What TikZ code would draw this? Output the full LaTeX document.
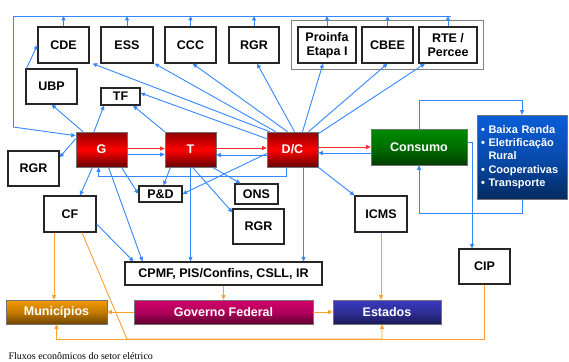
\documentclass[tikz,border=0pt]{standalone}
\usepackage{fontspec}
\setmainfont{Liberation Sans}
\newfontfamily\capfont{Liberation Serif}
\usepackage{xcolor}
\definecolor{sefblue}{HTML}{3388FF}
\definecolor{sefora}{HTML}{FFA033}
\definecolor{sefred}{HTML}{FF2E2E}
\definecolor{sefgreen}{HTML}{008A00}
\definecolor{sefnavy}{HTML}{3A3ABF}
\definecolor{sefmag}{HTML}{D0006A}
\definecolor{sefbrown}{HTML}{F59A00}
\definecolor{sefsky}{HTML}{0A5ED8}
\usepackage{tikz}
\usetikzlibrary{arrows.meta,positioning,fit,calc}
\tikzset{
  sefbox/.style={draw=black!85,line width=1.1pt,fill=white,inner sep=0pt,align=center,font=\bfseries\fontsize{12.5}{14}\selectfont},
  sefdark/.style={draw=black!55,line width=0.6pt,inner sep=0pt,align=center,text=white,font=\bfseries\fontsize{12.5}{14}\selectfont},
  sefredbox/.style={sefdark,minimum width=51pt,minimum height=35pt,top color=red!55!black,bottom color=red!40!black,middle color=red},
  sefflow/.style={-{Triangle[length=4.5pt,width=4pt]},line width=0.9pt,draw=sefblue},
  sefmoney/.style={sefflow,draw=sefora},
  sefpower/.style={sefflow,draw=sefred},
}

\begin{document}
\begin{tikzpicture}[x=1pt,y=-1pt]
\useasboundingbox (0,0) rectangle (569,361);
 % encargos setoriais
\node[sefbox,minimum width=51pt,minimum height=36pt] (cde) at (63.5,45) {CDE};
\node[sefbox,minimum width=52pt,minimum height=36pt] (ess) at (127,45) {ESS};
\node[sefbox,minimum width=51pt,minimum height=36pt] (ccc) at (190.5,45) {CCC};
\node[sefbox,minimum width=50pt,minimum height=36pt] (rgrA) at (254,45) {RGR};
\node[sefbox,minimum width=58pt,minimum height=36pt] (proinfa) at (327,45) {Proinfa\\Etapa I};
\node[sefbox,minimum width=51pt,minimum height=36pt] (cbee) at (387.5,45) {CBEE};
\node[sefbox,minimum width=58pt,minimum height=36pt] (rte) at (448,45) {RTE /\\Percee};
\node[draw=black!50,line width=0.9pt,fit=(proinfa)(cbee)(rte),inner xsep=6pt,inner ysep=5.5pt] (grp) {};
\node[sefbox,minimum width=51pt,minimum height=35pt] (ubp) at (51.5,86.5) {UBP};
\node[sefbox,minimum width=39pt,minimum height=17pt] (tf) at (120.5,96.5) {TF};
 % cadeia G - T - D/C
\node[sefredbox] (g) at (101.5,149.5) {G};
\node[sefredbox] (t) at (190.5,149.5) {T};
\node[sefredbox] (dc) at (292.5,149.5) {D/C};
\node[sefdark,minimum width=96pt,minimum height=36pt,top color=sefgreen,bottom color=sefgreen!45!black,middle color=sefgreen!80!black] (consumo) at (419,147) {Consumo};
\node[sefdark,minimum width=90pt,minimum height=84pt,top color=sefsky,bottom color=sefsky!45!black,middle color=sefsky!80!black,text width=82pt,align=left,font=\bfseries\fontsize{11}{13.3}\selectfont] (bb) at (522,157) {• Baixa Renda\\• Eletrificação\\\phantom{• }Rural\\• Cooperativas\\• Transporte};
\node[sefbox,minimum width=51pt,minimum height=35pt] (rgrB) at (33.5,168.5) {RGR};
\node[sefbox,minimum width=52pt,minimum height=36pt] (cf) at (70,214) {CF};
\node[sefbox,minimum width=43pt,minimum height=16pt] (pd) at (160.5,194) {P\&D};
\node[sefbox,minimum width=43pt,minimum height=20pt] (ons) at (256.5,194) {ONS};
\node[sefbox,minimum width=51pt,minimum height=35pt] (rgrC) at (258.5,226.5) {RGR};
\node[sefbox,minimum width=52pt,minimum height=36pt] (icms) at (381,214) {ICMS};
\node[sefbox,minimum width=197pt,minimum height=23pt] (cpmf) at (223.5,273.5) {CPMF, PIS/Confins, CSLL, IR};
\node[sefbox,minimum width=51pt,minimum height=35pt] (cip) at (484.5,266.5) {CIP};
 % destinos
\node[sefdark,minimum width=101pt,minimum height=24pt,top color=sefbrown,bottom color=sefbrown!45!black,middle color=sefbrown!80!black] (mun) at (56.5,312) {Municípios};
\node[sefdark,minimum width=179pt,minimum height=24pt,top color=sefmag,bottom color=sefmag!45!black,middle color=sefmag!85!black] (gov) at (223.5,312) {Governo Federal};
\node[sefdark,minimum width=108pt,minimum height=24pt,top color=sefnavy,bottom color=sefnavy!45!black,middle color=sefnavy!80!black] (est) at (387,312) {Estados};
\node[anchor=base west,font=\capfont\fontsize{10}{12}\selectfont] (cap) at (5,359) {Fluxos econômicos do setor elétrico};

 % barramento superior
\coordinate (busL) at (13,16);
\coordinate (busD) at (13,127);
\draw[sefblue,line width=0.9pt] ([xshift=3pt]rte.north |- busL) -- (busL) -- (busD);
\draw[sefflow] (busD) -- ([yshift=-4pt]g.north west);
\foreach \n in {cde,ess,ccc,rgrA,proinfa,cbee,rte}
  \draw[sefflow] (\n.north) -- (\n.north |- busL);

 % fluxos de energia
\draw[sefpower] ([yshift=1pt]g.east) -- ([yshift=1pt]t.west);
\draw[sefpower] ([yshift=1.5pt]t.east) -- ([yshift=1.5pt]dc.west);
\draw[sefpower] ([yshift=2.5pt]dc.east) -- (consumo.west);

 % fluxos financeiros
\draw[sefflow] ([yshift=-5pt]g.east) -- ([yshift=-5pt]t.west);
\draw[sefflow] ([yshift=-5.5pt]dc.west) -- ([yshift=-5.5pt]t.east);
\draw[sefflow] ([yshift=-6pt]consumo.west) -- ([yshift=-3.5pt]dc.east);
\draw[sefflow] ([xshift=1pt]ubp.north west) -- (cde.west);
\draw[sefflow] ([xshift=-18.5pt]g.north) -- (ubp.south);
\draw[sefflow] ([xshift=-7.5pt]g.north) -- ([xshift=-16.5pt]tf.south);
\draw[sefflow] (t.north west) -- ([xshift=12.5pt]tf.south);
\draw[sefflow] ([yshift=-7pt]dc.north west) -- ([yshift=3.5pt]tf.east);
\draw[sefflow] ([xshift=3pt]dc.north west) -- ([xshift=3pt]cde.south east);
\draw[sefflow] ([xshift=9pt]dc.north west) -- ([xshift=1pt]ess.south east);
\draw[sefflow] ([xshift=-5pt]dc.north) -- ([xshift=2pt]ccc.south);
\draw[sefflow] ([xshift=2pt]dc.north) -- ([xshift=3pt]rgrA.south);
\draw[sefflow] ([xshift=10pt]dc.north) -- ([xshift=-4pt]proinfa.south);
\draw[sefflow] ([xshift=16pt]dc.north) -- (cbee.south);
\draw[sefflow] ([yshift=-2pt]dc.north east) -- ([xshift=-23pt]rte.south);
\draw[sefflow] ([yshift=-7pt]g.north west) -- ([yshift=-7pt]rgrB.north east);
\draw[sefflow] ([xshift=-9pt]g.south) -- ([xshift=10pt]cf.north);
\draw[sefflow] ([xshift=-6pt]dc.south) -- ++(0,9) -| ([xshift=-3pt]g.south);
\draw[sefflow] ([xshift=20pt]g.south) -- (pd.west);
\draw[sefflow] ([xshift=7pt]g.south) -- ([xshift=-81pt]cpmf.north);
\draw[sefflow] ([yshift=-10pt]cf.east) -- ([xshift=-90pt]cpmf.north);
\draw[sefflow] ([xshift=-20pt]t.south) -- ([xshift=3pt]pd.north);
\draw[sefflow] ([yshift=-4pt]dc.west) -- (pd.east);
\draw[sefflow] ([xshift=22pt]t.south) -- ([xshift=-16pt]ons.north);
\draw[sefflow] ([xshift=2pt]t.south) -- ([yshift=-4pt]rgrC.north west);
\draw[sefflow] (t.south) -- (t.south |- cpmf.north);
\draw[sefflow] ([xshift=11pt]dc.south) -- ([xshift=11pt]dc.south |- cpmf.north);
\draw[sefflow] (dc.south east) -- (icms.north west);
\draw[sefflow] (consumo.north) -- ++(0,-28) -| (bb.north);
\draw[sefflow] (bb.south) -- ++(0,14) -| (consumo.south);
\draw[sefflow] ([yshift=5pt]consumo.east) -| ([xshift=-12.5pt]cip.north);

 % repasses
\coordinate (bendcf) at (127,339);
\draw[sefmoney] ([xshift=-16pt]cf.south) -- ([xshift=-16pt]cf.south |- mun.north);
\draw[sefmoney] ([xshift=12pt]cf.south) -- (bendcf) -| ([xshift=-5pt]est.south);
\draw[sefmoney] (cip.south) -- ++(0,55) -| (mun.south);
\draw[sefmoney] (cpmf.south) -- (gov.north);
\draw[sefmoney] (gov.west) -- (mun.east);
\draw[sefmoney] (gov.east) -- (est.west);
\draw[sefmoney] (icms.south) -- (icms.south |- est.north);
\end{tikzpicture}
\end{document}
